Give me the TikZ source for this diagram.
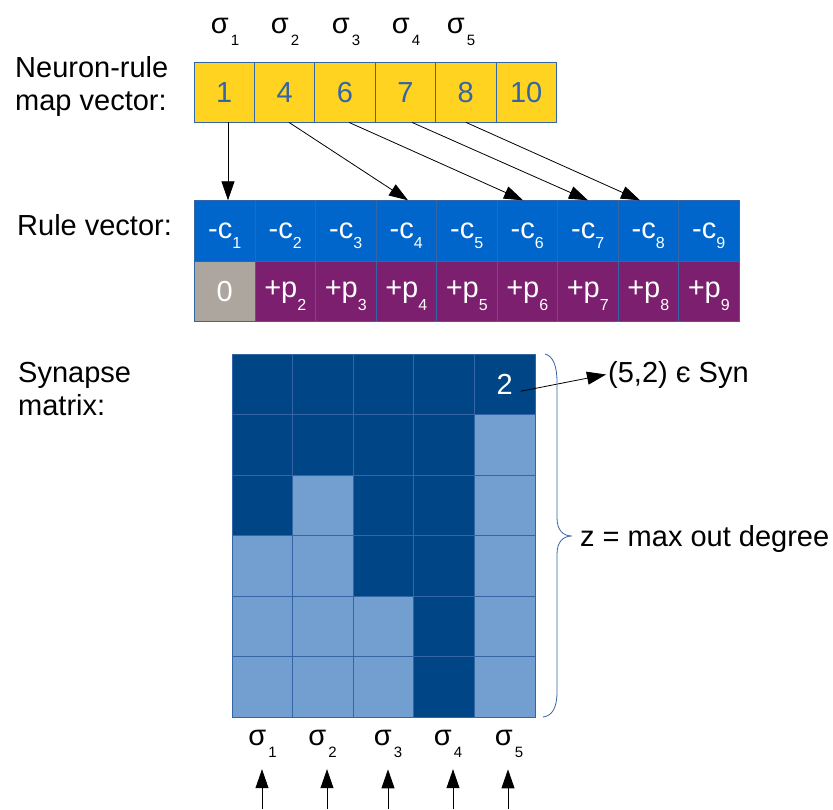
\documentclass[tikz,border=0pt]{standalone}
\usepackage{fontspec}
\setmainfont{Liberation Sans}
\usetikzlibrary{arrows.meta}
\definecolor{gold}{HTML}{FFD320}
\definecolor{edge}{HTML}{3465A4}
\definecolor{ruleblue}{HTML}{0066CC}
\definecolor{rulepurple}{HTML}{7B1F6E}
\definecolor{rulegrey}{HTML}{ADA69F}
\definecolor{D}{HTML}{004586}
\definecolor{L}{HTML}{729FCF}
\newcommand\lsub[2]{\raisebox{-#1pt}{\fontsize{16}{16}\selectfont #2}}
\newcommand\sig[1]{σ\kern2pt\raisebox{-12pt}{\fontsize{15}{15}\selectfont #1}}
\begin{document}
\begin{tikzpicture}[x=1pt,y=-1pt,
  every node/.style={font=\fontsize{29}{33}\selectfont, inner sep=0pt},
  mapcell/.style={draw=edge, line width=0.8pt, fill=gold, minimum width=60.4pt, minimum height=60pt, text=edge, text height=20.8pt, text depth=0pt},
  rtop/.style={draw=edge, line width=0.8pt, fill=ruleblue, minimum width=60.5pt, minimum height=60.6pt, text=white, text height=14.6pt, text depth=0pt},
  rbot/.style={draw=edge, line width=0.8pt, fill=rulepurple, minimum width=60.5pt, minimum height=60.4pt, text=white, text height=11pt, text depth=0pt},
  matcell/.style={draw=edge, line width=0.8pt, minimum width=60.6pt, minimum height=60.5pt},
  arr/.style={draw=black, line width=0.8pt, -{Triangle[length=19pt,width=13pt]}},
  lbl/.style={anchor=base west, text=black},
]
\useasboundingbox (0,0) rectangle (833,809);

% left labels
\node[lbl] (nr1) at (15,77) {Neuron-rule};
\node[lbl] (nr2) at (15,110) {map vector:};
\node[lbl] (rv) at (17,235) {Rule vector:};
\node[lbl] (sm1) at (18,382) {Synapse};
\node[lbl] (sm2) at (18,415) {matrix:};

% top sigma labels
\foreach \x [count=\i] in {225,285,346,406,461}
  \node[anchor=base] (t\i) at (\x,33) {\sig{\i}};

% neuron-rule map vector
\foreach \v [count=\i] in {1,4,6,7,8,10}
  \node[mapcell] (m\i) at ({194+60.4*(\i-0.5)},92) {\v};

% rule vector
\foreach \i in {1,...,9}
  \node[rtop] (r\i) at ({194.5+60.5*(\i-0.5)},231) {-c\lsub{10}{\i}};
\node[rbot, fill=rulegrey, text height=20.8pt] (q1) at ({194.5+60.5*0.5},291.5) {0};
\foreach \i in {2,...,9}
  \node[rbot] (q\i) at ({194.5+60.5*(\i-0.5)},291.5) {+p\lsub{13}{\i}};

% map -> rule arrows
\draw[arr] ([xshift=3.8pt]m1.south) -- ([xshift=3.25pt]r1.north);
\draw[arr] ([xshift=4.4pt]m2.south) -- ([xshift=1.75pt]r4.north);
\draw[arr] ([xshift=4pt]m3.south) -- ([xshift=-4.25pt]r6.north);
\draw[arr] ([xshift=6.6pt]m4.south) -- ([xshift=0.25pt]r7.north);
\draw[arr] ([xshift=0.2pt]m5.south) -- ([xshift=-8.25pt]r8.north);

% synapse matrix
\foreach \r/\pat in {1/{D,D,D,D,D},2/{D,D,D,D,L},3/{D,L,D,D,L},4/{L,L,D,D,L},5/{L,L,L,D,L},6/{L,L,L,D,L}}
  \foreach \p [count=\c] in \pat
    \node[matcell, fill=\p] (s-\r-\c) at ({232+60.6*(\c-0.5)},{354+60.5*(\r-0.5)}) {};
\node[text=white, text height=20.8pt, text depth=0pt] (two) at (s-1-5.center) {2};

% (5,2) label
\node[anchor=base west, inner sep=2pt] (syn) at (606,382) {(5,2) є Syn};
\draw[arr] ([xshift=16pt,yshift=-7pt]two.center) -- (syn.west);

% brace
\draw[edge, line width=0.8pt] (545,354) .. controls (553,356) and (557,366) .. (557,382)
  -- (557,518) .. controls (557,530) and (563,536) .. (572,536)
  .. controls (563,536) and (557,542) .. (557,554)
  -- (557,692) .. controls (557,708) and (552,716) .. (543,717);
\node[anchor=base west] (zl) at (580,546.7) {z = max out degree};

% bottom sigma labels and arrows
\foreach \x [count=\i] in {262.5,322.5,388,448,509}
  \node[anchor=base] (b\i) at (\x,745) {\sig{\i}};
\foreach \x [count=\i] in {262,327,388,453,508} {
  \coordinate (a\i) at (\x,809);
  \draw[arr, shorten >=12pt] (a\i) -- (a\i |- b\i.south);
}
\end{tikzpicture}
\end{document}
